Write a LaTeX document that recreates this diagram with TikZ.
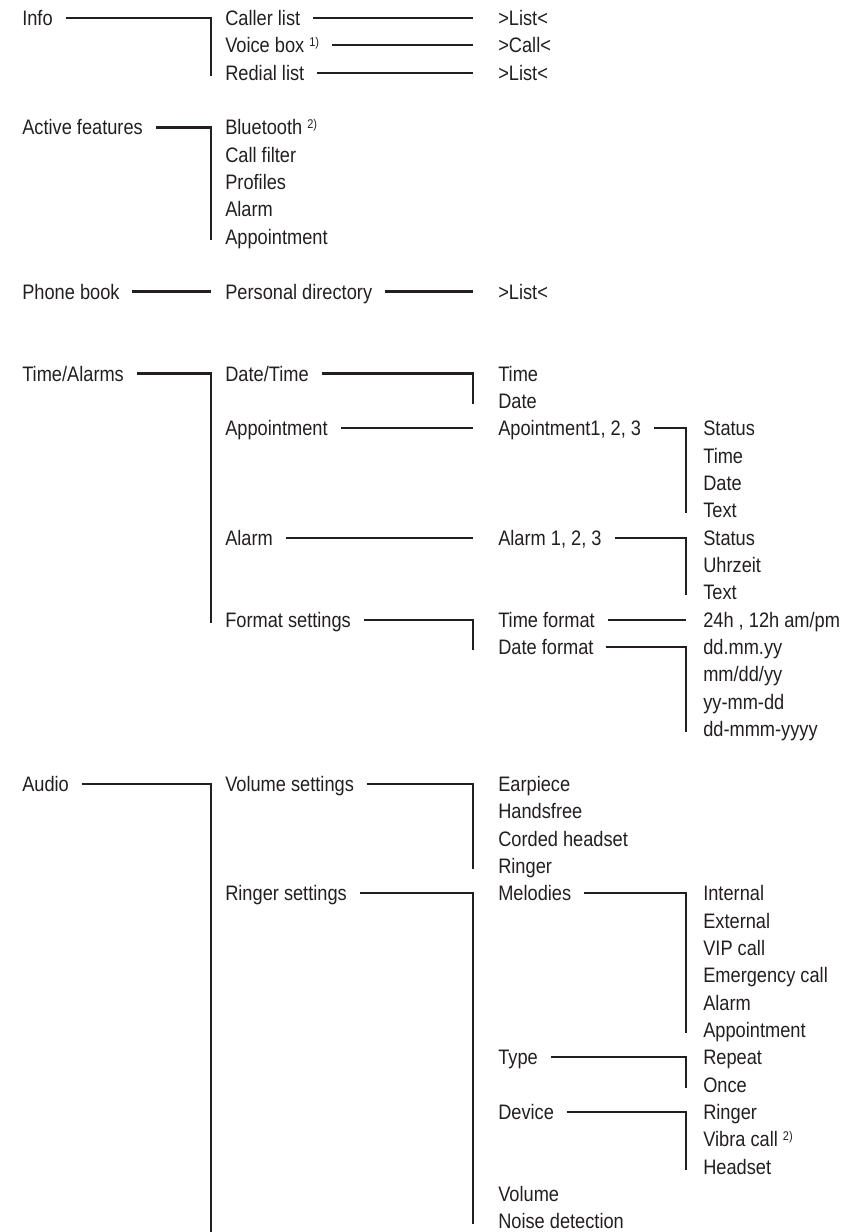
\documentclass[tikz,border=0pt]{standalone}
\usepackage{fontspec}
\setmainfont{Liberation Sans}[FakeStretch=0.87]
\usepackage{tikz}
\definecolor{ink}{RGB}{35,31,32}
\tikzset{entry/.style={anchor=west,inner sep=0pt,text height=10.7pt,text depth=0pt,text=ink,
  font=\fontsize{14.9pt}{18pt}\selectfont},
 branch/.style={draw=ink,line width=1.6pt,shorten <=9pt},
 every picture/.style={line join=miter}}
\newcommand{\fnref}[1]{\raisebox{4.8pt}{\fontsize{9pt}{9pt}\selectfont #1)}}

\begin{document}
\begin{tikzpicture}[]
\useasboundingbox (0,0) rectangle (21.525,-30.800);
\coordinate (v1) at (5.275,0.000);
\coordinate (v2) at (11.825,0.000);
\coordinate (v3) at (17.150,0.000);
\coordinate (foot) at (5.275,-30.800);
% level 0
\node[entry] (info) at (0.550,-0.450) {Info};
\node[entry] (active) at (0.550,-3.185) {Active features};
\node[entry] (phonebook) at (0.550,-7.288) {Phone book};
\node[entry] (timealarms) at (0.550,-9.339) {Time/Alarms};
\node[entry] (audio) at (0.550,-19.595) {Audio};
% level 1
\node[entry] (caller) at (5.625,-0.450) {Caller list};
\node[entry] (voicebox) at (5.625,-1.134) {Voice box \fnref{1}};
\node[entry] (redial) at (5.625,-1.818) {Redial list};
\node[entry] (bluetooth) at (5.625,-3.185) {Bluetooth \fnref{2}};
\node[entry] (callfilter) at (5.625,-3.869) {Call filter};
\node[entry] (profiles) at (5.625,-4.553) {Profiles};
\node[entry] (alarmA) at (5.625,-5.236) {Alarm};
\node[entry] (appointA) at (5.625,-5.920) {Appointment};
\node[entry] (personal) at (5.625,-7.288) {Personal directory};
\node[entry] (datetime) at (5.625,-9.339) {Date/Time};
\node[entry] (appointB) at (5.625,-10.706) {Appointment};
\node[entry] (alarmB) at (5.625,-13.441) {Alarm};
\node[entry] (formats) at (5.625,-15.493) {Format settings};
\node[entry] (volset) at (5.625,-19.595) {Volume settings};
\node[entry] (ringset) at (5.625,-22.330) {Ringer settings};
% level 2
\node[entry] (listA) at (12.450,-0.450) {>List<};
\node[entry] (callA) at (12.450,-1.134) {>Call<};
\node[entry] (listB) at (12.450,-1.818) {>List<};
\node[entry] (listC) at (12.450,-7.288) {>List<};
\node[entry] (timeB) at (12.450,-9.339) {Time};
\node[entry] (dateB) at (12.450,-10.023) {Date};
\node[entry] (apoint) at (12.450,-10.706) {Apointment1, 2, 3};
\node[entry] (alarmNo) at (12.450,-13.441) {Alarm 1, 2, 3};
\node[entry] (timefmt) at (12.450,-15.493) {Time format};
\node[entry] (datefmt) at (12.450,-16.176) {Date format};
\node[entry] (earpiece) at (12.450,-19.595) {Earpiece};
\node[entry] (handsfree) at (12.450,-20.279) {Handsfree};
\node[entry] (corded) at (12.450,-20.963) {Corded headset};
\node[entry] (ringerA) at (12.450,-21.646) {Ringer};
\node[entry] (melodies) at (12.450,-22.330) {Melodies};
\node[entry] (type) at (12.450,-26.433) {Type};
\node[entry] (device) at (12.450,-27.800) {Device};
\node[entry] (volume) at (12.450,-29.851) {Volume};
\node[entry] (noise) at (12.450,-30.535) {Noise detection};
% level 3
\node[entry] (statusA) at (17.575,-10.706) {Status};
\node[entry] (timeC) at (17.575,-11.390) {Time};
\node[entry] (dateC) at (17.575,-12.074) {Date};
\node[entry] (textA) at (17.575,-12.758) {Text};
\node[entry] (statusB) at (17.575,-13.441) {Status};
\node[entry] (uhrzeit) at (17.575,-14.125) {Uhrzeit};
\node[entry] (textB) at (17.575,-14.809) {Text};
\node[entry] (fmtTime) at (17.575,-15.493) {24h , 12h am/pm};
\node[entry] (fmtA) at (17.575,-16.176) {dd.mm.yy};
\node[entry] (fmtB) at (17.575,-16.860) {mm/dd/yy};
\node[entry] (fmtC) at (17.575,-17.544) {yy-mm-dd};
\node[entry] (fmtD) at (17.575,-18.228) {dd-mmm-yyyy};
\node[entry] (internal) at (17.575,-22.330) {Internal};
\node[entry] (external) at (17.575,-23.014) {External};
\node[entry] (vip) at (17.575,-23.698) {VIP call};
\node[entry] (emergency) at (17.575,-24.381) {Emergency call};
\node[entry] (alarmC) at (17.575,-25.065) {Alarm};
\node[entry] (appointC) at (17.575,-25.749) {Appointment};
\node[entry] (repeat) at (17.575,-26.433) {Repeat};
\node[entry] (once) at (17.575,-27.116) {Once};
\node[entry] (ringerB) at (17.575,-27.800) {Ringer};
\node[entry] (vibra) at (17.575,-28.484) {Vibra call \fnref{2}};
\node[entry] (headset) at (17.575,-29.168) {Headset};
% branches
\draw[branch] (info.east) -| ([yshift=-0.075cm]redial.west -| v1);
\draw[branch] (caller.east) -- (caller.east -| v2);
\draw[branch] (voicebox.east) -- (voicebox.east -| v2);
\draw[branch] (redial.east) -- (redial.east -| v2);
\draw[branch] (active.east) -| ([yshift=-0.075cm]appointA.west -| v1);
\draw[branch] (phonebook.east) -- (phonebook.east -| v1);
\draw[branch] (personal.east) -- (personal.east -| v2);
\draw[branch] (timealarms.east) -| ([yshift=-0.075cm]formats.west -| v1);
\draw[branch] (datetime.east) -| ([yshift=-0.075cm]dateB.west -| v2);
\draw[branch] (appointB.east) -- (appointB.east -| v2);
\draw[branch] (apoint.east) -| ([yshift=-0.075cm]textA.west -| v3);
\draw[branch] (alarmB.east) -- (alarmB.east -| v2);
\draw[branch] (alarmNo.east) -| ([yshift=-0.075cm]textB.west -| v3);
\draw[branch] (formats.east) -| ([yshift=-0.075cm]datefmt.west -| v2);
\draw[branch] (timefmt.east) -- (timefmt.east -| v3);
\draw[branch] (datefmt.east) -| ([yshift=-0.075cm]fmtD.west -| v3);
\draw[branch] (audio.east) -| (foot);
\draw[branch] (volset.east) -| ([yshift=-0.075cm]ringerA.west -| v2);
\draw[branch] (ringset.east) -| ([yshift=-0.075cm]noise.west -| v2);
\draw[branch] (melodies.east) -| ([yshift=-0.075cm]appointC.west -| v3);
\draw[branch] (type.east) -| ([yshift=-0.075cm]once.west -| v3);
\draw[branch] (device.east) -| ([yshift=-0.075cm]headset.west -| v3);
\end{tikzpicture}
\end{document}
